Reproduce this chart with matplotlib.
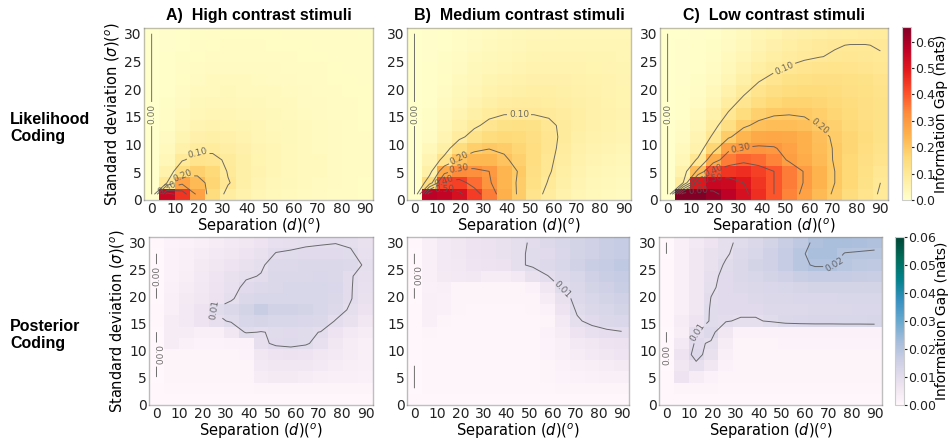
import numpy as np
import matplotlib
matplotlib.use("Agg")
from matplotlib import pyplot as plt

# grid of the simulation: separation d (deg) and std. deviation sigma (deg)
separations = [0, 6.43, 12.86, 19.29, 25.71, 32.14, 38.57, 45.0, 51.43, 57.86, 64.29, 70.71, 77.14, 83.57, 90.0]
sigmas = [1.0, 3.07, 5.14, 7.21, 9.29, 11.36, 13.43, 15.5, 17.57, 19.64, 21.71, 23.79, 25.86, 27.93, 30.0]

titles = ["A)  High contrast stimuli", "B)  Medium contrast stimuli", "C)  Low contrast stimuli"]
row_names = ["Likelihood\nCoding", "Posterior\nCoding"]

# information gap, likelihood coding (rows = sigma from 1 to 30)
lik_high = [
    [0, .55, .45, .28, .15, .08, .06, .045, .035, .03, .025, .022, .02, .018, .016],
    [0, .10, .28, .23, .17, .105, .07, .05, .04, .033, .028, .024, .021, .019, .017],
    [0, .06, .15, .18, .16, .095, .07, .055, .043, .035, .03, .026, .022, .02, .018],
    [0, .04, .095, .12, .115, .09, .068, .052, .042, .035, .03, .026, .023, .02, .018],
    [0, .03, .065, .085, .088, .078, .063, .05, .041, .034, .029, .025, .022, .02, .018],
    [0, .022, .048, .063, .068, .064, .055, .046, .039, .033, .029, .025, .022, .02, .018],
    [0, .017, .037, .049, .054, .052, .047, .041, .035, .031, .027, .024, .021, .019, .017],
    [0, .014, .029, .039, .044, .043, .04, .036, .032, .028, .025, .023, .02, .018, .017],
    [0, .011, .023, .032, .036, .036, .034, .031, .028, .026, .023, .021, .019, .018, .016],
    [0, .009, .019, .026, .03, .031, .03, .028, .026, .024, .022, .02, .018, .017, .016],
    [0, .008, .016, .022, .026, .027, .026, .025, .023, .022, .02, .019, .017, .016, .015],
    [0, .007, .014, .019, .022, .023, .023, .022, .021, .02, .019, .018, .016, .015, .014],
    [0, .006, .012, .016, .019, .02, .02, .02, .019, .018, .017, .016, .015, .014, .014],
    [0, .005, .01, .014, .017, .018, .018, .018, .017, .017, .016, .015, .014, .014, .013],
    [0, .004, .009, .012, .015, .016, .016, .016, .016, .015, .015, .014, .013, .013, .012],
]
lik_medium = [
    [0, .57, .56, .52, .44, .35, .25, .19, .12, .085, .06, .045, .035, .03, .025],
    [0, .15, .42, .43, .37, .31, .24, .19, .135, .095, .07, .05, .04, .035, .03],
    [0, .07, .27, .33, .32, .30, .24, .195, .14, .105, .075, .055, .045, .04, .035],
    [0, .05, .12, .21, .235, .235, .21, .18, .145, .11, .08, .06, .05, .045, .04],
    [0, .035, .07, .15, .185, .198, .19, .17, .145, .115, .085, .065, .055, .05, .045],
    [0, .02, .05, .085, .125, .15, .16, .155, .14, .115, .09, .07, .06, .055, .05],
    [0, .015, .04, .065, .09, .115, .13, .135, .13, .11, .09, .075, .065, .058, .052],
    [0, .012, .03, .05, .07, .088, .098, .099, .098, .094, .085, .075, .066, .06, .054],
    [0, .01, .025, .04, .055, .07, .08, .085, .085, .082, .077, .07, .064, .058, .053],
    [0, .008, .02, .033, .045, .057, .066, .071, .073, .072, .069, .065, .06, .056, .052],
    [0, .007, .016, .027, .037, .047, .055, .06, .063, .063, .062, .06, .057, .054, .05],
    [0, .006, .013, .022, .031, .039, .046, .051, .054, .055, .055, .054, .052, .05, .048],
    [0, .005, .011, .018, .026, .033, .039, .044, .047, .049, .05, .049, .048, .047, .046],
    [0, .004, .009, .015, .022, .028, .034, .038, .041, .043, .044, .044, .044, .043, .042],
    [0, .004, .008, .013, .019, .024, .029, .033, .036, .038, .039, .04, .04, .04, .039],
]
lik_low = [
    [0, .65, .65, .62, .57, .52, .46, .40, .34, .28, .23, .19, .15, .12, .095],
    [0, .09, .50, .55, .54, .50, .45, .40, .35, .295, .245, .20, .165, .13, .10],
    [0, .06, .22, .41, .45, .46, .43, .40, .35, .295, .245, .20, .165, .135, .11],
    [0, .04, .11, .26, .35, .38, .37, .34, .29, .26, .23, .195, .165, .14, .12],
    [0, .03, .06, .17, .28, .305, .31, .305, .28, .25, .225, .195, .17, .145, .125],
    [0, .02, .05, .11, .19, .24, .265, .27, .265, .25, .22, .19, .17, .15, .13],
    [0, .015, .04, .08, .14, .19, .215, .225, .225, .215, .198, .18, .16, .145, .13],
    [0, .01, .03, .06, .105, .15, .18, .195, .198, .195, .185, .17, .155, .14, .13],
    [0, .008, .02, .045, .08, .115, .145, .165, .175, .175, .17, .16, .15, .14, .13],
    [0, .006, .015, .035, .06, .09, .12, .14, .15, .155, .155, .15, .14, .135, .125],
    [0, .005, .012, .025, .045, .07, .095, .115, .13, .135, .14, .14, .135, .13, .12],
    [0, .004, .01, .02, .035, .055, .075, .09, .105, .115, .12, .122, .12, .115, .11],
    [0, .003, .008, .015, .028, .043, .06, .073, .085, .093, .099, .103, .105, .104, .102],
    [0, .003, .006, .012, .022, .035, .05, .063, .075, .085, .093, .098, .101, .101, .098],
    [0, .002, .005, .01, .018, .029, .042, .053, .063, .07, .076, .08, .083, .085, .087],
]

# information gap, posterior coding
post_high = [
    [.0005, .0005, .0005, .0005, .0005, .0005, .0005, .0005, .0005, .0005, .0005, .0005, .0005, .0005, .0005],
    [.0005, .0008, .0008, .0008, .0008, .0008, .0008, .001, .0012, .0012, .0012, .0012, .0012, .001, .001],
    [0, .001, .001, .001, .001, .001, .001, .004, .0045, .0045, .004, .0035, .003, .003, .0025],
    [0, .001, .001, .001, .001, .001, .001, .005, .006, .006, .006, .005, .004, .0035, .003],
    [0, .001, .001, .001, .001, .001, .0015, .006, .007, .0075, .007, .006, .005, .004, .003],
    [0, .004, .0025, .0015, .0015, .002, .002, .009, .0108, .0112, .0105, .0085, .006, .004, .003],
    [0, .004, .004, .003, .003, .006, .0105, .0098, .0105, .011, .0105, .0099, .007, .005, .004],
    [.0005, .004, .005, .007, .009, .0105, .013, .0135, .013, .013, .0125, .012, .0098, .008, .006],
    [.0005, .003, .005, .007, .0105, .012, .014, .0165, .0145, .0145, .014, .013, .0115, .0095, .0075],
    [0, .003, .0045, .006, .0075, .0095, .012, .013, .013, .013, .013, .013, .012, .0102, .008],
    [0, .0025, .004, .0055, .007, .0085, .011, .0115, .012, .013, .013, .013, .0125, .0102, .0085],
    [0, .002, .0035, .005, .0065, .008, .0095, .0102, .012, .012, .012, .0125, .012, .0102, .009],
    [0, .002, .003, .0045, .006, .007, .008, .0095, .0115, .0115, .012, .012, .012, .0115, .0095],
    [0, .002, .003, .004, .005, .006, .007, .008, .0102, .0105, .0108, .011, .011, .0105, .0085],
    [.0005, .0015, .002, .003, .004, .005, .006, .007, .0085, .009, .0095, .0097, .0099, .0095, .008],
]
post_medium = [
    [.0005, .0005, .0005, .0005, .0005, .0005, .0005, .0005, .0005, .0005, .0005, .0005, .0005, .0005, .0005],
    [0, .0008, .0008, .0008, .0008, .0008, .0008, .0008, .0008, .0008, .001, .001, .0012, .0012, .0012],
    [0, .0008, .0008, .0008, .0008, .0008, .0008, .0008, .0008, .001, .0015, .002, .0025, .003, .003],
    [0, .0008, .0008, .0008, .0008, .0008, .0008, .0008, .0008, .001, .002, .003, .0035, .004, .0045],
    [.0005, .0008, .0008, .0008, .0008, .0008, .0008, .0008, .0008, .0015, .003, .004, .005, .006, .0065],
    [.0005, .0008, .0008, .0008, .0008, .0008, .0008, .0008, .0008, .0015, .003, .005, .006, .007, .0075],
    [.0005, .001, .0008, .0008, .0008, .0008, .0008, .0008, .0008, .002, .004, .007, .0085, .0093, .0098],
    [.0005, .003, .001, .0008, .0008, .0008, .0008, .0008, .0008, .001, .005, .0095, .011, .012, .0125],
    [.0005, .003, .0025, .001, .0008, .0008, .0008, .0008, .001, .002, .007, .0105, .012, .013, .014],
    [0, .003, .0025, .001, .001, .001, .001, .001, .001, .004, .008, .0115, .013, .014, .015],
    [0, .0025, .003, .001, .001, .001, .001, .001, .002, .006, .0105, .012, .014, .015, .016],
    [0, .003, .0045, .005, .0055, .004, .004, .005, .008, .0099, .0115, .013, .015, .016, .017],
    [0, .003, .005, .0055, .0065, .007, .0075, .0095, .0105, .0115, .013, .0145, .016, .017, .018],
    [0, .003, .005, .006, .007, .0075, .008, .0096, .0104, .011, .0125, .014, .015, .016, .017],
    [.0005, .003, .005, .006, .007, .0075, .008, .0095, .0103, .0115, .013, .014, .015, .016, .017],
]
post_low = [
    [.0005, .0005, .0005, .0005, .0005, .0005, .0005, .0005, .0005, .0005, .0005, .0005, .0005, .0005, .0005],
    [.0005, .001, .001, .001, .0008, .0008, .0008, .0008, .0008, .0008, .0008, .0008, .0008, .0008, .0008],
    [.0005, .007, .004, .002, .001, .001, .001, .001, .001, .001, .001, .001, .001, .001, .001],
    [0, .006, .009, .006, .002, .001, .001, .001, .001, .001, .001, .001, .001, .001, .001],
    [0, .007, .0115, .008, .003, .001, .001, .001, .001, .001, .001, .001, .001, .001, .001],
    [0, .005, .0108, .0095, .004, .001, .001, .001, .0015, .0015, .0015, .0015, .0015, .0015, .0015],
    [0, .0035, .0098, .0115, .006, .002, .002, .002, .002, .002, .002, .002, .002, .002, .002],
    [.0005, .004, .007, .0105, .0103, .0095, .0095, .0105, .012, .0125, .0128, .0128, .013, .013, .0132],
    [.0005, .003, .006, .0105, .011, .011, .011, .0115, .0115, .0115, .012, .012, .012, .0125, .0125],
    [.0005, .003, .006, .0101, .011, .011, .0115, .012, .012, .0125, .0125, .0125, .013, .013, .013],
    [.0005, .003, .006, .0095, .011, .0115, .012, .0125, .013, .0135, .014, .014, .014, .014, .014],
    [.0005, .003, .006, .009, .011, .012, .013, .014, .015, .016, .017, .017, .017, .0165, .016],
    [.0005, .003, .006, .008, .0105, .012, .014, .015, .017, .019, .0205, .0205, .019, .0185, .018],
    [0, .003, .006, .008, .0095, .0115, .013, .015, .017, .019, .022, .022, .0198, .0196, .0195],
    [0, .003, .005, .007, .0095, .0105, .012, .014, .016, .018, .021, .022, .022, .0215, .021],
]

lik_levels = [1e-6, 0.1, 0.2, 0.3, 0.4, 0.5, 0.6]
post_levels = [1e-6, 0.01, 0.02]

W, H = 948, 441

def rect(x0, x1, y0, y1):
    # pixel box -> figure fraction
    return [x0 / W, 1 - y1 / H, (x1 - x0) / W, (y1 - y0) / H]

top_boxes = [(144, 373), (407, 631), (660, 888)]
bot_boxes = [(149, 373), (407, 629), (659, 882)]
top_rows = (28, 200)
bot_rows = (237, 405)

fig = plt.figure(figsize=(9.48, 4.41), dpi=100)

def panel(box, ys, z, cmap, vmax, levels):
    ax = fig.add_axes(rect(box[0], box[1], ys[0], ys[1]))
    z = np.array(z)
    mesh = ax.pcolormesh(separations, sigmas, z, shading="nearest", cmap=cmap, vmin=0, vmax=vmax)
    cs = ax.contour(separations, sigmas, z, levels=levels, colors="#555555", linewidths=0.7, alpha=0.85)
    ax.clabel(cs, fmt=lambda v: f"{v:.2f}", fontsize=6.5, inline=True, inline_spacing=2, colors="#555555")
    ax.set_xticks(range(0, 91, 10))
    ax.set_yticks(range(0, 31, 5))
    ax.tick_params(length=0, labelsize=10, pad=1.5, colors="#222222")
    for s in ax.spines.values():
        s.set_color("gray")
        s.set_alpha(0.5)
        s.set_linewidth(1.0)
    ax.set_xlabel(r"Separation ($d$)($^o$)", fontsize=10.5, labelpad=0)
    return ax, mesh

lik_data = [lik_high, lik_medium, lik_low]
post_data = [post_high, post_medium, post_low]
bold_font = dict(family="Liberation Sans", fontsize=11.5, fontweight="bold")

for i in range(3):
    ax, mesh_top = panel(top_boxes[i], top_rows, lik_data[i], "YlOrRd", 0.655, lik_levels)
    ax.set_title(titles[i], pad=6, **bold_font)
    if i == 0:
        ax.set_ylabel(r"Standard deviation ($\sigma$)($^o$)", fontsize=10.5, labelpad=2)
    ax2, mesh_bot = panel(bot_boxes[i], bot_rows, post_data[i], "PuBuGn", 0.06, post_levels)
    if i == 0:
        ax2.set_ylabel(r"Standard deviation ($\sigma$)($^o$)", fontsize=10.5, labelpad=2)

cax1 = fig.add_axes(rect(902, 911, 27, 200))
cb1 = fig.colorbar(mesh_top, cax=cax1, ticks=[0, .1, .2, .3, .4, .5, .6], format="%.1f")
cax2 = fig.add_axes(rect(895, 904, 237, 405))
cb2 = fig.colorbar(mesh_bot, cax=cax2, ticks=[0, .01, .02, .03, .04, .05, .06], format="%.2f")
for cb in (cb1, cb2):
    cb.outline.set_edgecolor("#cccccc")
    cb.ax.tick_params(labelsize=9, length=2, pad=1, colors="#222222")
    cb.set_label("Information Gap (nats)", fontsize=10, labelpad=-0.5)

fig.text(10 / W, 1 - 128 / H, row_names[0], ha="left", va="center", **bold_font)
fig.text(10 / W, 1 - 335 / H, row_names[1], ha="left", va="center", **bold_font)

fig.savefig("out.png", dpi=100)
